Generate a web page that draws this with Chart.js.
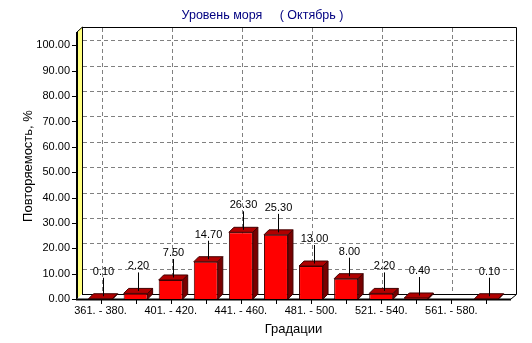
<!DOCTYPE html>
<html>
<head>
<meta charset="utf-8">
<script src="https://cdn.jsdelivr.net/npm/chart.js@4/dist/chart.umd.min.js"></script>
<style>
html,body{margin:0;padding:0;background:#fff;}
#c{display:block;}
</style>
</head>
<body>
<canvas id="c" width="532" height="343"></canvas>
<script>
const categories = ['361. - 380.', '381. - 400.', '401. - 420.', '421. - 440.', '441. - 460.', '461. - 480.',
  '481. - 500.', '501. - 520.', '521. - 540.', '541. - 560.', '561. - 580.', '581. - 600.'];
const values = [0.10, 2.20, 7.50, 14.70, 26.30, 25.30, 13.00, 8.00, 2.20, 0.40, null, 0.10];
const yTickValues = [0, 10, 20, 30, 40, 50, 60, 70, 80, 90, 100];
const chartTitle = 'Уровень моря     ( Октябрь )';
const xTitle = 'Градации';
const yTitle = 'Повторяемость, %';

const FONT = "'Liberation Sans', Arial, sans-serif";
const DX = 5, DY = 5;

const threeD = {
  id: 'threeD',
  beforeDatasetsDraw(chart) {
    const ctx = chart.ctx, a = chart.chartArea;
    const xs = chart.scales.x, ys = chart.scales.y;
    const y0 = ys.getPixelForValue(0);
    const fl = a.left - 6, fr = a.right + 7;
    const wallTop = a.top - 6;
    ctx.save();
    ctx.strokeStyle = '#000';
    ctx.lineWidth = 1;
    ctx.beginPath();
    ctx.moveTo(fl + DX + 0.5, wallTop + 0.5);
    ctx.lineTo(fr + DX + 0.5, wallTop + 0.5);
    ctx.lineTo(fr + DX + 0.5, y0 - DY);
    ctx.stroke();
    ctx.strokeStyle = '#808080';
    ctx.setLineDash([4, 3]);
    yTickValues.forEach(v => {
      if (v === 0) return;
      const y = Math.round(ys.getPixelForValue(v) - DY) + 0.5;
      ctx.beginPath();
      ctx.moveTo(fl + DX + 1, y);
      ctx.lineTo(fr + DX, y);
      ctx.stroke();
    });
    categories.forEach((c, i) => {
      if (i % 2) return;
      const x = Math.round(xs.getPixelForValue(i) + 1) + 0.5;
      ctx.beginPath();
      ctx.moveTo(x, wallTop + 1);
      ctx.lineTo(x, y0 - DY);
      ctx.stroke();
    });
    ctx.setLineDash([]);
    ctx.fillStyle = '#ffff80';
    ctx.beginPath();
    ctx.moveTo(fl, y0);
    ctx.lineTo(fl + DX, y0 - DY);
    ctx.lineTo(fl + DX, wallTop);
    ctx.lineTo(fl, wallTop + DY);
    ctx.closePath();
    ctx.fill();
    ctx.strokeStyle = '#000';
    ctx.lineWidth = 1;
    ctx.beginPath();
    ctx.moveTo(fl + DX + 0.5, wallTop);
    ctx.lineTo(fl + DX + 0.5, y0 - DY);
    ctx.moveTo(fl, wallTop + DY);
    ctx.lineTo(fl + DX + 0.5, wallTop);
    ctx.stroke();
    ctx.lineWidth = 2;
    ctx.beginPath();
    ctx.moveTo(fl, wallTop + DY);
    ctx.lineTo(fl, y0 + 1);
    ctx.stroke();
    ctx.fillStyle = '#ffffff';
    ctx.lineWidth = 1;
    ctx.beginPath();
    ctx.moveTo(fl, y0);
    ctx.lineTo(fr, y0);
    ctx.lineTo(fr + DX, y0 - DY);
    ctx.lineTo(fl + DX, y0 - DY);
    ctx.closePath();
    ctx.fill();
    ctx.beginPath();
    ctx.moveTo(fl + DX, y0 - DY + 0.5);
    ctx.lineTo(fr + DX + 0.5, y0 - DY + 0.5);
    ctx.lineTo(fr, y0);
    ctx.stroke();
    ctx.lineWidth = 2;
    ctx.beginPath();
    ctx.moveTo(fl - 1, y0 + 0.5);
    ctx.lineTo(fr, y0 + 0.5);
    ctx.stroke();
    ctx.lineWidth = 1;
    yTickValues.forEach(v => {
      const y = Math.round(ys.getPixelForValue(v)) + 0.5;
      ctx.beginPath();
      ctx.moveTo(fl - 5, y);
      ctx.lineTo(fl, y);
      ctx.stroke();
    });
    categories.forEach((c, i) => {
      const x = Math.round(xs.getPixelForValue(i)) + 0.5;
      ctx.beginPath();
      ctx.moveTo(x, y0 + 1);
      ctx.lineTo(x, y0 + 5);
      ctx.stroke();
    });
    ctx.restore();
  },
  afterDatasetsDraw(chart) {
    const ctx = chart.ctx;
    const meta = chart.getDatasetMeta(0);
    ctx.save();
    meta.data.forEach((bar, i) => {
      if (values[i] === null || values[i] === undefined) return;
      const p = bar.getProps(['x', 'y', 'base', 'width'], true);
      const l = p.x - p.width / 2, r = p.x + p.width / 2;
      const top = p.y, base = p.base;
      ctx.lineWidth = 1;
      ctx.strokeStyle = '#400000';
      ctx.fillStyle = '#b00000';
      ctx.beginPath();
      ctx.moveTo(l, top);
      ctx.lineTo(l + DX, top - DY);
      ctx.lineTo(r + DX, top - DY);
      ctx.lineTo(r, top);
      ctx.closePath();
      ctx.fill();
      ctx.stroke();
      ctx.fillStyle = '#780000';
      ctx.beginPath();
      ctx.moveTo(r, top);
      ctx.lineTo(r + DX, top - DY);
      ctx.lineTo(r + DX, base - DY);
      ctx.lineTo(r, base);
      ctx.closePath();
      ctx.fill();
      ctx.stroke();
      const lx = Math.round(p.x + DX / 2) + 0.5;
      const ly = top - 27;
      ctx.strokeStyle = '#000';
      ctx.beginPath();
      ctx.moveTo(lx, ly + 6);
      ctx.lineTo(lx, top - DY / 2);
      ctx.stroke();
      ctx.fillStyle = '#000';
      ctx.font = '11px ' + FONT;
      ctx.textAlign = 'center';
      ctx.textBaseline = 'middle';
      ctx.fillText(values[i].toFixed(2), lx, ly);
    });
    ctx.restore();
  }
};

new Chart(document.getElementById('c'), {
  type: 'bar',
  data: {
    labels: categories,
    datasets: [{
      data: values,
      backgroundColor: '#ff0000',
      borderColor: '#400000',
      borderWidth: 1,
      barPercentage: 0.684,
      categoryPercentage: 1
    }]
  },
  options: {
    responsive: false,
    animation: false,
    devicePixelRatio: 1,
    layout: { padding: { left: 21, right: 28, top: 0, bottom: 0 } },
    plugins: {
      legend: { display: false },
      tooltip: { enabled: false },
      title: {
        display: true,
        text: chartTitle,
        color: '#000080',
        font: { family: FONT, size: 12.5, weight: 'normal', lineHeight: 1.2 },
        padding: { top: 8.5, bottom: 9.5 }
      }
    },
    scales: {
      x: {
        type: 'category',
        grid: { display: false, drawTicks: false },
        border: { display: false },
        ticks: {
          autoSkip: false,
          maxRotation: 0,
          minRotation: 0,
          padding: 5,
          color: '#000',
          font: { family: FONT, size: 11 },
          callback: (v, i) => (i % 2 === 0 ? categories[i] : '')
        },
        title: {
          display: true,
          text: xTitle,
          color: '#000',
          font: { family: FONT, size: 13, lineHeight: 1.2 },
          padding: { top: 0, bottom: 6 }
        },
        afterFit: s => { s.height = 44; }
      },
      y: {
        min: 0,
        max: 104.9,
        grid: { display: false, drawTicks: false },
        border: { display: false },
        afterBuildTicks: s => { s.ticks = yTickValues.map(v => ({ value: v })); },
        ticks: {
          padding: 13,
          color: '#000',
          font: { family: FONT, size: 11 },
          callback: v => Number(v).toFixed(2)
        },
        title: {
          display: true,
          text: yTitle,
          color: '#000',
          font: { family: FONT, size: 13, lineHeight: 1.2 },
          padding: { top: 0, bottom: 0 }
        },
        afterFit: s => { s.width = 62; }
      }
    }
  },
  plugins: [threeD]
});
</script>
</body>
</html>
